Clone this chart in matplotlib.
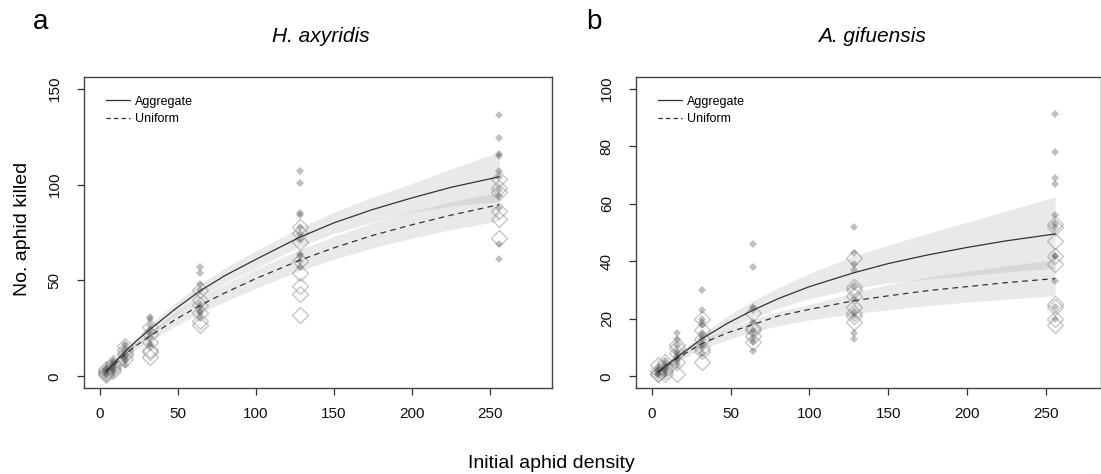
import matplotlib
import numpy as np

matplotlib.use("Agg")
import matplotlib.pyplot as plt
from matplotlib.lines import Line2D

plt.rcParams["font.family"] = ["Liberation Sans", "DejaVu Sans"]

# initial aphid densities used in the trials
X_LEVELS = [4, 8, 16, 32, 64, 128, 256]

# H. axyridis: aphids killed per replicate, one list per density
HA_AGG_PTS = [
    [4, 3, 3, 2, 2, 1],
    [8, 7, 6, 5, 5, 4, 3],
    [17, 15, 13, 11, 10, 9, 8, 6],
    [31, 30, 27, 24, 22, 20, 17, 16],
    [57, 54, 48, 45, 38, 36, 34, 33, 31],
    [107, 101, 85, 84, 78, 74, 71, 64, 63, 60, 57],
    [136, 124, 116, 115, 107, 104, 97, 94, 88, 69, 61],
]
HA_UNI_PTS = [
    [4, 3, 2, 2, 1],
    [7, 6, 5, 4, 3],
    [16, 14, 12, 11, 9],
    [26, 22, 18, 14, 13, 10],
    [45, 40, 37, 33, 29, 27],
    [78, 75, 70, 60, 54, 47, 43, 32],
    [103, 98, 96, 86, 82, 72],
]

# A. gifuensis
AG_AGG_PTS = [
    [3, 2, 2, 1, 1, 1],
    [5, 4, 3, 3, 2, 1],
    [15, 13, 11, 9, 8, 7, 6, 5, 4],
    [30, 23, 20, 19, 18, 15, 14, 13, 11, 10, 8],
    [46, 38, 24, 23, 19, 16, 15, 13, 12, 9],
    [52, 43, 39, 37, 31, 27, 22, 21, 15, 13],
    [91, 78, 69, 67, 56, 53, 52, 42, 42, 33, 24, 20],
]
AG_UNI_PTS = [
    [4, 2, 1, 1],
    [5, 4, 3, 2, 1],
    [11, 10, 8, 5, 1],
    [20, 16, 13, 10, 9, 5],
    [22, 17, 16, 14, 12],
    [41, 31, 30, 28, 24, 22, 21, 19],
    [53, 52, 47, 42, 39, 25, 24, 20, 18],
]

# fitted curves and confidence bands
CURVE_X = [4, 8, 16, 24, 32, 48, 64, 80, 100, 128, 150, 175, 200, 225, 256]

HA_AGG_FIT = [2.8, 6.2, 13, 19, 24.5, 35, 44.5, 52.5, 61, 72.5, 80, 87, 93, 98.5, 104]
HA_AGG_LO = [2.0, 5.2, 11.5, 17, 22, 31.8, 41, 48.5, 56.5, 67.5, 74.5, 80.5, 85.5, 88.8, 91]
HA_AGG_HI = [3.6, 7.3, 14.5, 21, 27, 38.3, 48, 56.5, 65.5, 77.5, 85.5, 93.5, 100.5, 108, 117]
HA_UNI_FIT = [2.5, 5.5, 11.5, 16.5, 21, 29.5, 37, 43.5, 51, 60.5, 67, 73.5, 79, 84, 89.5]
HA_UNI_LO = [1.8, 4.6, 10, 14.5, 18.5, 26, 33, 39, 46, 55, 61, 67, 72, 76.5, 81]
HA_UNI_HI = [3.2, 6.4, 13, 18.5, 23.5, 33, 41, 48, 56, 66, 73, 80, 86, 91, 96]

AG_AGG_FIT = [1.6, 3.4, 6.7, 10, 13.2, 18.5, 23, 27, 31.2, 36, 39.2, 42.2, 44.8, 47.1, 49.5]
AG_AGG_LO = [1.1, 2.8, 5.8, 8.7, 11.8, 16.3, 20.5, 23.8, 27, 30.5, 32.5, 33.8, 35, 36.3, 37.6]
AG_AGG_HI = [2.1, 4.0, 7.8, 11.3, 14.9, 21, 26.2, 30.8, 35.8, 41.8, 45.6, 49.7, 53.6, 57.5, 62.4]
AG_UNI_FIT = [1.5, 3.2, 6.3, 9, 11.5, 15.2, 18, 21, 23.3, 26.3, 28, 29.8, 31.2, 32.6, 34]
AG_UNI_LO = [1.0, 2.6, 5.2, 7.5, 9.6, 12.8, 15.5, 17.6, 19.6, 21.8, 23.2, 24.6, 25.8, 26.9, 28]
AG_UNI_HI = [2.0, 3.8, 7.4, 10.5, 12.8, 16.5, 19.8, 22.5, 25, 29, 32, 34.5, 36.5, 38.5, 40.5]

W, H = 1101, 474
LINE = "#333333"
BAND = (0.62, 0.62, 0.62, 0.22)


def panel(ax, agg_pts, uni_pts, fits, xlim, ylim, yticks):
    agg_fit, agg_lo, agg_hi, uni_fit, uni_lo, uni_hi = fits
    ax.fill_between(CURVE_X, agg_lo, agg_hi, color=BAND, lw=0, zorder=1)
    ax.fill_between(CURVE_X, uni_lo, uni_hi, color=BAND, lw=0, zorder=1)
    for x, ys in zip(X_LEVELS, uni_pts):
        ax.plot([x] * len(ys), ys, "D", ms=8.5, mfc="none", mec=(0.45, 0.45, 0.45, 0.4),
                mew=1.0, ls="none", zorder=2)
    for x, ys in zip(X_LEVELS, agg_pts):
        ax.plot([x] * len(ys), ys, "D", ms=4.2, mfc=(0.32, 0.32, 0.32, 0.36), mew=0,
                ls="none", zorder=3)
    ax.plot(CURVE_X, agg_fit, color=LINE, lw=0.9, zorder=4)
    ax.plot(CURVE_X, uni_fit, color=LINE, lw=0.9, dashes=(4.5, 3.5), zorder=4)

    ax.set_xlim(*xlim); ax.set_ylim(*ylim)
    ax.set_xticks([0, 50, 100, 150, 200, 250])
    ax.set_yticks(yticks)
    ax.set_yticklabels([str(t) for t in yticks], rotation=90, va="center")
    ax.tick_params(length=5, width=0.9, color=LINE, labelsize=11, labelcolor="#111111")
    ax.tick_params(axis="x", pad=9)
    ax.tick_params(axis="y", pad=11)
    for s in ax.spines.values():
        s.set_color("#444444"); s.set_linewidth(1.0)

    handles = [Line2D([], [], color=LINE, lw=0.9),
               Line2D([], [], color=LINE, lw=0.9, dashes=(3.5, 2.5))]
    ax.legend(handles, ["Aggregate", "Uniform"], loc="upper left", bbox_to_anchor=(0.047, 0.94),
              frameon=False, fontsize=9, handlelength=1.9, handletextpad=0.45,
              labelspacing=0.45, borderpad=0, borderaxespad=0)


fig = plt.figure(figsize=(W / 100, H / 100), dpi=100)
ax_a = fig.add_axes([84 / W, 1 - 388 / H, 468 / W, (388 - 77) / H])
ax_b = fig.add_axes([636 / W, 1 - 388 / H, 465 / W, (388 - 77) / H])

panel(ax_a, HA_AGG_PTS, HA_UNI_PTS,
      (HA_AGG_FIT, HA_AGG_LO, HA_AGG_HI, HA_UNI_FIT, HA_UNI_LO, HA_UNI_HI),
      (-10.3, 290), (-6, 156), [0, 50, 100, 150])
panel(ax_b, AG_AGG_PTS, AG_UNI_PTS,
      (AG_AGG_FIT, AG_AGG_LO, AG_AGG_HI, AG_UNI_FIT, AG_UNI_LO, AG_UNI_HI),
      (-10.2, 285.2), (-4, 104), [0, 20, 40, 60, 80, 100])

fig.text(41 / W, 1 - 22 / H, "a", fontsize=20, ha="center", va="center")
fig.text(594 / W, 1 - 22 / H, "b", fontsize=20, ha="center", va="center")
fig.text(321 / W, 1 - 37 / H, "H. axyridis", fontsize=15, style="italic", ha="center", va="center")
fig.text(872 / W, 1 - 37 / H, "A. gifuensis", fontsize=15, style="italic", ha="center", va="center")
fig.text(23 / W, 1 - 229 / H, "No. aphid killed", fontsize=14, rotation=90, ha="center", va="center")
fig.text(551 / W, 1 - 463 / H, "Initial aphid density", fontsize=14, ha="center", va="center")

fig.savefig("out.png", dpi=100)
